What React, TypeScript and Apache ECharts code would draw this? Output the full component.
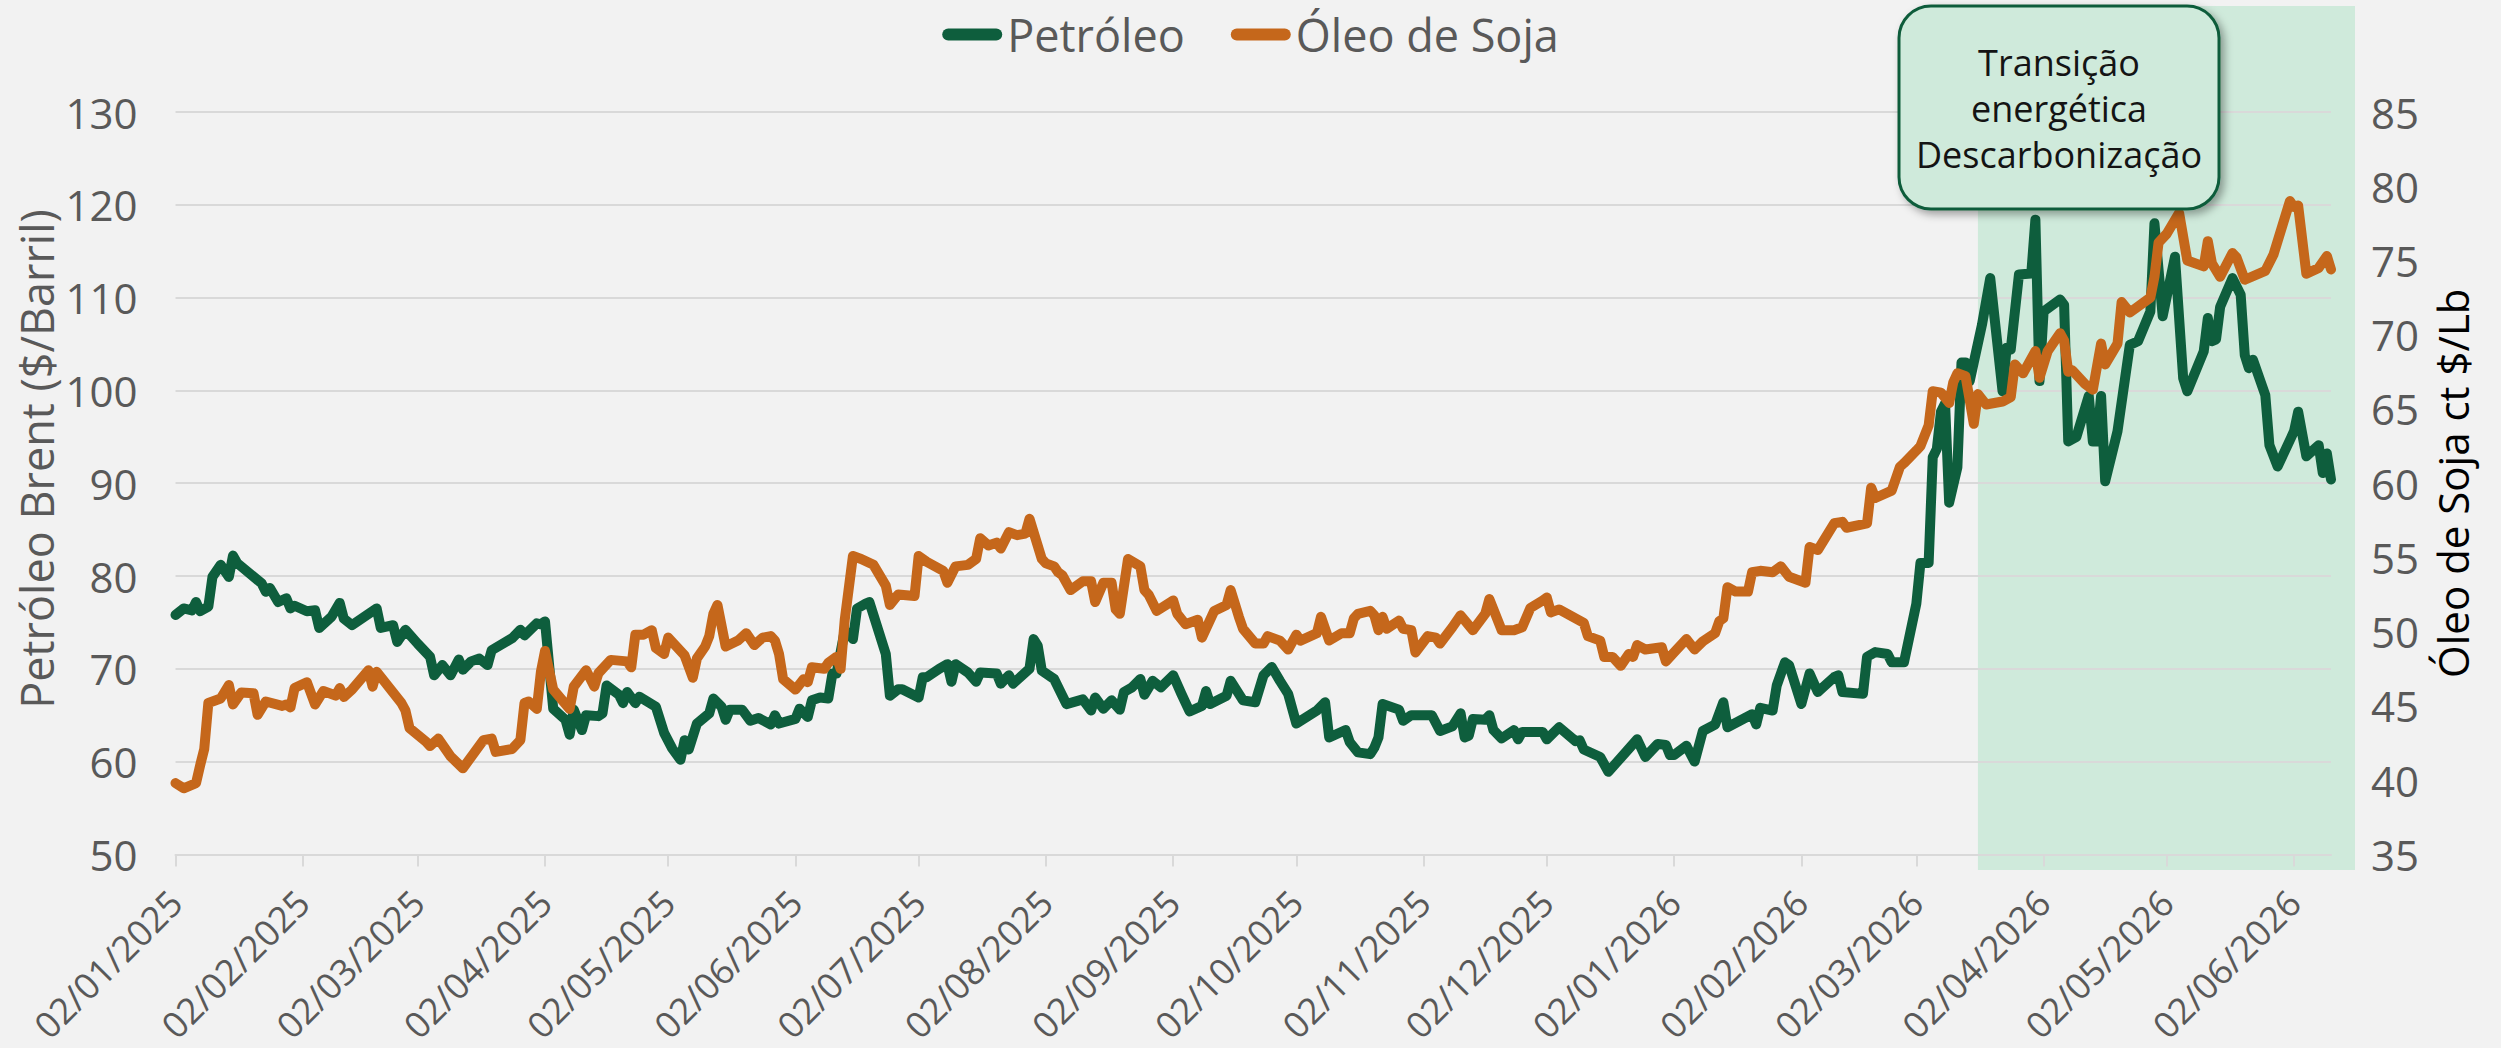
import React, { useEffect, useRef } from "react";
import * as echarts from "echarts";

const FONT = "'Open Sans', 'Noto Sans', sans-serif";

// Petróleo Brent ($/Barril) — left axis
const oilDates = [
  "2025-01-02","2025-01-04","2025-01-06","2025-01-07","2025-01-08","2025-01-10","2025-01-11","2025-01-13","2025-01-15","2025-01-16","2025-01-17","2025-01-23","2025-01-24","2025-01-25","2025-01-27","2025-01-29","2025-01-30","2025-01-31",
  "2025-02-03","2025-02-05","2025-02-06","2025-02-09","2025-02-11","2025-02-12","2025-02-14","2025-02-20","2025-02-21","2025-02-24","2025-02-25","2025-02-27",
  "2025-03-02","2025-03-05","2025-03-06","2025-03-08","2025-03-10","2025-03-12","2025-03-13","2025-03-15","2025-03-17","2025-03-19","2025-03-20","2025-03-25","2025-03-27","2025-03-28","2025-03-31",
  "2025-04-01","2025-04-02","2025-04-04","2025-04-07","2025-04-08","2025-04-09","2025-04-11","2025-04-12","2025-04-15","2025-04-16","2025-04-17","2025-04-20","2025-04-21","2025-04-22","2025-04-24","2025-04-25","2025-04-29",
  "2025-05-01","2025-05-03","2025-05-05","2025-05-06","2025-05-07","2025-05-09","2025-05-12","2025-05-13","2025-05-15","2025-05-16","2025-05-17","2025-05-20","2025-05-22","2025-05-24","2025-05-27","2025-05-28","2025-05-29",
  "2025-06-02","2025-06-03","2025-06-05","2025-06-06","2025-06-08","2025-06-10","2025-06-11","2025-06-12","2025-06-14","2025-06-15","2025-06-16","2025-06-17","2025-06-19","2025-06-20","2025-06-24","2025-06-25","2025-06-27","2025-06-28",
  "2025-07-02","2025-07-03","2025-07-04","2025-07-07","2025-07-09","2025-07-10","2025-07-11","2025-07-14","2025-07-16","2025-07-17","2025-07-21","2025-07-22","2025-07-24","2025-07-25","2025-07-29","2025-07-30","2025-07-31",
  "2025-08-01","2025-08-04","2025-08-06","2025-08-07","2025-08-11","2025-08-13","2025-08-14","2025-08-16","2025-08-18","2025-08-20","2025-08-21","2025-08-23","2025-08-25","2025-08-26","2025-08-28","2025-08-30",
  "2025-09-02","2025-09-04","2025-09-06","2025-09-09","2025-09-10","2025-09-11","2025-09-15","2025-09-16","2025-09-19","2025-09-22","2025-09-24","2025-09-26","2025-09-28","2025-09-30",
  "2025-10-02","2025-10-07","2025-10-09","2025-10-10","2025-10-14","2025-10-15","2025-10-17","2025-10-20","2025-10-21","2025-10-22","2025-10-23","2025-10-27","2025-10-28","2025-10-30",
  "2025-11-04","2025-11-06","2025-11-09","2025-11-11","2025-11-12","2025-11-13","2025-11-14","2025-11-17","2025-11-18","2025-11-19","2025-11-21","2025-11-24","2025-11-25","2025-11-26",
  "2025-12-01","2025-12-02","2025-12-05","2025-12-09","2025-12-10","2025-12-11","2025-12-15","2025-12-17","2025-12-19","2025-12-24","2025-12-26","2025-12-29","2025-12-31",
  "2026-01-01","2026-01-02","2026-01-05","2026-01-07","2026-01-09","2026-01-12","2026-01-14","2026-01-15","2026-01-21","2026-01-22","2026-01-23","2026-01-26","2026-01-27","2026-01-29","2026-01-30",
  "2026-02-02","2026-02-04","2026-02-06","2026-02-10","2026-02-11","2026-02-12","2026-02-17","2026-02-18","2026-02-20","2026-02-23","2026-02-24","2026-02-27",
  "2026-03-02","2026-03-03","2026-03-05","2026-03-06","2026-03-07","2026-03-08","2026-03-09","2026-03-10","2026-03-12","2026-03-13","2026-03-14","2026-03-15","2026-03-18","2026-03-20","2026-03-23","2026-03-24","2026-03-25","2026-03-27","2026-03-30","2026-03-31",
  "2026-04-01","2026-04-02","2026-04-06","2026-04-07","2026-04-08","2026-04-10","2026-04-13","2026-04-14","2026-04-15","2026-04-16","2026-04-17","2026-04-20","2026-04-23","2026-04-25","2026-04-28","2026-04-29",
  "2026-05-01","2026-05-04","2026-05-06","2026-05-07","2026-05-11","2026-05-12","2026-05-13","2026-05-14","2026-05-15","2026-05-18","2026-05-20","2026-05-21","2026-05-22","2026-05-23","2026-05-26","2026-05-27","2026-05-29",
  "2026-06-02","2026-06-03","2026-06-05","2026-06-08","2026-06-09","2026-06-10","2026-06-11",
];
const oilValues = [
  75.8,76.5,76.3,77.2,76.2,76.7,79.9,81.2,79.9,82.2,81.4,79.2,78.3,78.7,77.2,77.6,76.5,76.8,
  76.2,76.3,74.4,75.6,77.1,75.4,74.7,76.5,74.4,74.7,72.9,74.2,
  72.7,71.3,69.3,70.4,69.3,71.0,69.9,70.8,71.1,70.4,72.0,73.3,74.2,73.6,74.9,
  74.8,75.1,65.7,64.5,62.9,65.6,63.4,65.0,64.9,65.2,68.2,67.2,66.3,67.5,66.3,67.0,65.9,
  63.1,61.4,60.2,62.3,61.3,64.1,65.2,66.8,65.9,64.5,65.6,65.6,64.4,64.7,64.0,65.0,64.1,
  64.6,65.7,64.8,66.6,66.9,66.8,69.5,69.5,74.1,73.8,73.2,76.5,77.0,77.2,71.6,67.1,67.8,67.8,
  66.9,69.1,69.1,70.0,70.5,68.6,70.5,69.6,68.6,69.6,69.5,68.4,69.3,68.4,70.0,73.2,72.5,
  69.8,68.9,67.1,66.2,66.7,65.5,66.9,65.7,66.6,65.6,67.5,68.0,68.9,67.2,68.7,68.0,
  69.3,67.3,65.4,66.0,67.6,66.2,67.1,68.7,66.6,66.4,69.3,70.2,68.7,67.3,
  64.1,65.5,66.4,62.6,63.4,62.1,61.0,60.8,61.5,62.6,66.2,65.6,64.4,65.0,
  65.0,63.3,63.8,65.2,62.6,62.8,64.6,64.5,65.0,63.4,62.5,63.4,62.4,63.2,
  63.2,62.4,63.7,62.2,62.3,61.3,60.5,58.9,59.9,62.4,60.5,61.9,61.8,
  60.7,60.7,61.7,60.0,63.3,64.0,66.4,63.7,65.1,64.0,65.8,65.5,68.2,70.7,70.4,
  66.2,69.5,67.5,69.1,69.3,67.5,67.3,71.3,71.8,71.6,70.7,70.7,
  77.0,81.4,81.4,92.8,93.7,97.7,98.6,87.9,91.7,103.0,103.0,101.0,107.1,112.1,99.9,104.6,104.4,112.5,112.6,118.4,
  101.0,108.5,109.8,109.2,94.5,95.0,99.4,94.5,94.5,99.4,90.2,95.6,104.9,105.3,108.5,118.0,
  108.0,114.4,101.3,99.9,104.2,107.8,105.3,105.5,109.0,112.1,110.3,103.8,102.4,103.3,99.5,94.1,91.8,
  95.6,97.7,92.9,94.1,91.1,93.2,90.4,
];

// Óleo de Soja (ct $/Lb) — right axis
const soyDates = [
  "2025-01-02","2025-01-04","2025-01-07","2025-01-08","2025-01-09","2025-01-10","2025-01-13","2025-01-15","2025-01-16","2025-01-18","2025-01-21","2025-01-22","2025-01-24","2025-01-28","2025-01-29","2025-01-30","2025-01-31",
  "2025-02-03","2025-02-05","2025-02-07","2025-02-10","2025-02-11","2025-02-12","2025-02-14","2025-02-18","2025-02-19","2025-02-20","2025-02-26","2025-02-27","2025-02-28",
  "2025-03-04","2025-03-05","2025-03-07","2025-03-10","2025-03-13","2025-03-18","2025-03-20","2025-03-21","2025-03-25","2025-03-27","2025-03-28","2025-03-29","2025-03-31",
  "2025-04-01","2025-04-02","2025-04-04","2025-04-08","2025-04-09","2025-04-12","2025-04-14","2025-04-15","2025-04-18","2025-04-22","2025-04-23","2025-04-24","2025-04-26","2025-04-28","2025-04-29",
  "2025-05-01","2025-05-02","2025-05-06","2025-05-08","2025-05-09","2025-05-11","2025-05-12","2025-05-13","2025-05-14","2025-05-16","2025-05-19","2025-05-21","2025-05-23","2025-05-25","2025-05-27","2025-05-28","2025-05-29","2025-05-30",
  "2025-06-02","2025-06-04","2025-06-05","2025-06-06","2025-06-09","2025-06-10","2025-06-12","2025-06-13","2025-06-14","2025-06-16","2025-06-18","2025-06-21","2025-06-24","2025-06-25","2025-06-27",
  "2025-07-01","2025-07-02","2025-07-04","2025-07-08","2025-07-09","2025-07-11","2025-07-14","2025-07-16","2025-07-17","2025-07-19","2025-07-21","2025-07-22","2025-07-24","2025-07-26","2025-07-28","2025-07-29",
  "2025-08-01","2025-08-02","2025-08-04","2025-08-05","2025-08-06","2025-08-08","2025-08-11","2025-08-13","2025-08-14","2025-08-16","2025-08-18","2025-08-19","2025-08-20","2025-08-22","2025-08-25","2025-08-26","2025-08-27","2025-08-29",
  "2025-09-02","2025-09-03","2025-09-05","2025-09-08","2025-09-09","2025-09-12","2025-09-15","2025-09-16","2025-09-18","2025-09-19","2025-09-22","2025-09-24","2025-09-25","2025-09-28","2025-09-30",
  "2025-10-02","2025-10-03","2025-10-07","2025-10-08","2025-10-10","2025-10-13","2025-10-15","2025-10-16","2025-10-17","2025-10-20","2025-10-21","2025-10-22","2025-10-23","2025-10-24","2025-10-27","2025-10-28","2025-10-30","2025-10-31",
  "2025-11-03","2025-11-05","2025-11-06","2025-11-09","2025-11-11","2025-11-14","2025-11-17","2025-11-18","2025-11-21","2025-11-24","2025-11-26","2025-11-28",
  "2025-12-01","2025-12-02","2025-12-03","2025-12-05","2025-12-10","2025-12-11","2025-12-12","2025-12-15","2025-12-16","2025-12-18","2025-12-20","2025-12-22","2025-12-23","2025-12-24","2025-12-26","2025-12-30","2025-12-31",
  "2026-01-02","2026-01-05","2026-01-07","2026-01-09","2026-01-12","2026-01-13","2026-01-14","2026-01-15","2026-01-17","2026-01-20","2026-01-21","2026-01-23","2026-01-26","2026-01-28","2026-01-30",
  "2026-02-03","2026-02-04","2026-02-06","2026-02-10","2026-02-12","2026-02-13","2026-02-18","2026-02-19","2026-02-20","2026-02-24","2026-02-26","2026-02-27",
  "2026-03-02","2026-03-03","2026-03-05","2026-03-06","2026-03-08","2026-03-10","2026-03-11","2026-03-12","2026-03-14","2026-03-16","2026-03-17","2026-03-19","2026-03-23","2026-03-25","2026-03-26","2026-03-28","2026-03-31",
  "2026-04-01","2026-04-03","2026-04-06","2026-04-07","2026-04-08","2026-04-09","2026-04-12","2026-04-14","2026-04-16","2026-04-17","2026-04-20","2026-04-21","2026-04-23","2026-04-28","2026-04-29","2026-04-30",
  "2026-05-02","2026-05-05","2026-05-07","2026-05-11","2026-05-12","2026-05-13","2026-05-15","2026-05-18","2026-05-19","2026-05-21","2026-05-26","2026-05-28","2026-05-30",
  "2026-06-01","2026-06-02","2026-06-03","2026-06-05","2026-06-08","2026-06-10","2026-06-11",
];
const soyValues = [
  39.8,39.45,39.8,41.0,42.1,45.2,45.5,46.4,45.1,45.9,45.85,44.4,45.3,45.0,45.1,44.9,46.2,
  46.6,45.1,46.0,45.7,46.2,45.6,46.1,47.4,46.3,47.3,45.2,44.7,43.5,
  42.6,42.3,42.8,41.6,40.8,42.7,42.8,41.9,42.1,42.7,45.2,45.3,44.8,
  47.3,48.7,46.1,44.8,46.3,47.4,46.3,47.2,48.1,48.0,47.6,49.8,49.8,50.1,48.9,
  48.5,49.6,48.4,46.9,48.2,49.0,49.7,51.2,51.8,49.0,49.4,49.9,49.1,49.6,49.7,49.4,48.5,46.8,
  46.1,46.8,46.6,47.6,47.5,47.9,48.3,47.5,50.8,55.1,54.9,54.5,53.1,51.8,52.5,
  52.4,55.1,54.7,54.1,53.3,54.4,54.5,54.9,56.3,55.8,56.0,55.6,56.7,56.5,56.6,57.6,
  54.9,54.6,54.4,54.0,53.8,52.8,53.4,53.4,52.0,53.3,53.3,51.5,51.2,54.9,54.4,52.8,52.5,51.4,
  52.1,51.2,50.5,50.8,49.6,51.4,51.8,52.8,51.0,50.2,49.2,49.2,49.7,49.4,48.8,
  49.8,49.4,49.9,51.0,49.4,49.9,49.9,50.9,51.2,51.4,51.1,50.1,51.0,50.2,50.75,50.2,50.1,48.6,
  49.7,49.6,49.2,50.3,51.1,50.1,51.2,52.2,50.1,50.1,50.3,51.6,
  52.1,52.3,51.3,51.5,50.75,50.6,49.7,49.4,48.3,48.3,47.7,48.5,48.3,49.1,48.8,48.95,48.0,
  48.6,49.5,48.8,49.35,49.9,50.7,50.9,53.0,52.7,52.7,54.0,54.1,54.0,54.4,53.7,
  53.3,55.7,55.5,57.3,57.4,57.0,57.3,59.7,59.0,59.5,61.1,61.35,
  62.2,62.5,63.9,66.2,66.1,65.4,66.8,67.4,67.2,64.0,66.0,65.3,65.5,65.8,68.0,67.4,68.9,
  67.1,68.9,70.1,69.6,67.5,67.6,66.7,66.3,69.4,68.0,69.4,72.2,71.5,72.5,73.9,76.2,
  76.8,78.2,75.0,74.6,76.3,74.8,73.9,75.5,75.2,73.7,74.3,75.4,77.2,
  79.0,78.6,78.7,74.1,74.5,75.3,74.4,
];

const monthTickDates = [
  "2025-01-02","2025-02-02","2025-03-02","2025-04-02","2025-05-02","2025-06-02",
  "2025-07-02","2025-08-02","2025-09-02","2025-10-02","2025-11-02","2025-12-02",
  "2026-01-02","2026-02-02","2026-03-02","2026-04-02","2026-05-02","2026-06-02",
];
const xStart = "2025-01-02";
const xEnd = "2026-06-11";
const highlightStart = "2026-03-17";
const annotationLines = ["Transição", "energética", "Descarbonização"];
const seriesNames = ["Petróleo", "Óleo de Soja"];
const seriesColors = ["#0e5e3d", "#c5671b"];
const leftAxisTitle = "Petróleo Brent ($/Barril)";
const rightAxisTitle = "Óleo de Soja ct $/Lb";

function ts(s: string): number {
  const [y, m, d] = s.split("-").map(Number);
  return new Date(y, m - 1, d).getTime();
}
function fmt(v: number): string {
  const d = new Date(v);
  const dd = String(d.getDate()).padStart(2, "0");
  const mm = String(d.getMonth() + 1).padStart(2, "0");
  return `${dd}/${mm}/${d.getFullYear()}`;
}

export default function App() {
  const ref = useRef<HTMLDivElement>(null);
  useEffect(() => {
    const chart = echarts.init(ref.current!, null, { renderer: "svg" });
    const tickTs = monthTickDates.map(ts);
    const option: any = {
      animation: false,
      backgroundColor: "#f2f2f2",
      textStyle: { fontFamily: FONT },
      legend: {
        top: 7,
        left: "center",
        itemWidth: 60,
        itemHeight: 12,
        itemGap: 46,
        icon: "path://M6,0 L54,0 A6,6 0 0 1 54,12 L6,12 A6,6 0 0 1 6,0 Z",
        itemStyle: { borderWidth: 0 },
        textStyle: { fontSize: 45, color: "#595959", fontFamily: FONT },
        data: seriesNames,
      },
      grid: {
        left: 175.5,
        right: 170,
        top: 112,
        bottom: 193.6,
        containLabel: false,
        outerBoundsMode: "none",
      },
      xAxis: {
        type: "value",
        min: ts(xStart),
        max: ts(xEnd),
        axisLine: { show: true, onZero: false, lineStyle: { color: "#d9d9d9", width: 2 } },
        axisTick: {
          show: true,
          customValues: tickTs,
          length: 12,
          lineStyle: { color: "#d9d9d9", width: 2 },
        },
        axisLabel: {
          customValues: tickTs,
          rotate: 45,
          fontSize: 36,
          color: "#595959",
          margin: 42,
          fontFamily: FONT,
          hideOverlap: false,
          showMinLabel: true,
          showMaxLabel: true,
          formatter: (v: number) => fmt(v),
        },
        splitLine: { show: false },
      },
      yAxis: [
        {
          type: "value",
          position: "left",
          min: 50,
          max: 130,
          interval: 10,
          axisLine: { show: false },
          axisTick: { show: false },
          axisLabel: { fontSize: 42, color: "#595959", margin: 38, fontFamily: FONT },
          splitLine: { show: true, lineStyle: { color: "#d9d9d9", width: 2 } },
        },
        {
          type: "value",
          position: "right",
          min: 35,
          max: 85,
          interval: 5,
          axisLine: { show: false },
          axisTick: { show: false },
          axisLabel: { fontSize: 42, color: "#595959", margin: 40, fontFamily: FONT },
          splitLine: { show: false },
          name: rightAxisTitle,
          nameLocation: "middle",
          nameRotate: 90,
          nameGap: 100,
          nameTextStyle: { fontSize: 42, color: "#000000", fontFamily: FONT },
        },
      ],
      series: [
        {
          name: seriesNames[0],
          type: "line",
          yAxisIndex: 0,
          showSymbol: false,
          symbol: "none",
          clip: false,
          itemStyle: { color: seriesColors[0] },
          lineStyle: { color: seriesColors[0], width: 10, cap: "round", join: "round" },
          data: oilDates.map((d, i) => [ts(d), oilValues[i]]),
          z: 3,
        },
        {
          name: seriesNames[1],
          type: "line",
          yAxisIndex: 1,
          showSymbol: false,
          symbol: "none",
          clip: false,
          itemStyle: { color: seriesColors[1] },
          lineStyle: { color: seriesColors[1], width: 10, cap: "round", join: "round" },
          data: soyDates.map((d, i) => [ts(d), soyValues[i]]),
          z: 4,
        },
      ],
    };
    chart.setOption(option);

    const x0 = chart.convertToPixel({ xAxisIndex: 0 }, ts(highlightStart)) as number;
    const xRight = (chart.convertToPixel({ xAxisIndex: 0 }, ts(xEnd)) as number) + 24;
    const boxX = 1899;
    const boxW = 320;
    chart.setOption({
      graphic: [
        {
          type: "rect",
          z: -10,
          silent: true,
          shape: { x: x0, y: 6, width: xRight - x0, height: 864 },
          style: { fill: "#cfeadb" },
        },
        {
          type: "text",
          silent: true,
          x: 36,
          y: 459,
          rotation: Math.PI / 2,
          style: {
            text: leftAxisTitle,
            fill: "#595959",
            fontSize: 45,
            fontFamily: FONT,
            align: "center",
            verticalAlign: "middle",
          },
        },
        {
          type: "rect",
          z: 100,
          silent: true,
          shape: { x: boxX, y: 6, width: boxW, height: 203, r: 32 },
          style: {
            fill: "#cfeadb",
            stroke: "#0f5c3a",
            lineWidth: 3,
            shadowBlur: 8,
            shadowOffsetX: 4,
            shadowOffsetY: 4,
            shadowColor: "rgba(0,0,0,0.35)",
          },
        },
        {
          type: "text",
          z: 101,
          silent: true,
          x: boxX + boxW / 2,
          y: 108,
          style: {
            text: annotationLines.join("\n"),
            fill: "#141414",
            fontSize: 36,
            fontFamily: FONT,
            align: "center",
            verticalAlign: "middle",
            lineHeight: 46,
          },
        },
      ],
    });
    return () => chart.dispose();
  }, []);
  return (
    <div
      ref={ref}
      style={{ position: "fixed", left: 0, top: 0, width: 2501, height: 1048 }}
    />
  );
}
